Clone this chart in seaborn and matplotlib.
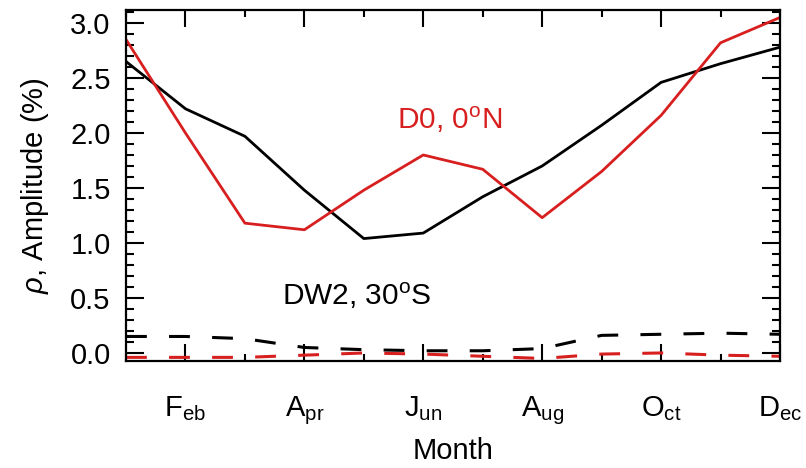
import numpy as np
import pandas as pd
import matplotlib
matplotlib.use("Agg")
import matplotlib.pyplot as plt
from matplotlib.ticker import MultipleLocator, FixedLocator
import seaborn as sns

months = list(range(1, 13))
tick_months = [2, 4, 6, 8, 10, 12]
tick_labels = [r"F$_\mathrm{eb}$", r"A$_\mathrm{pr}$", r"J$_\mathrm{un}$",
               r"A$_\mathrm{ug}$", r"O$_\mathrm{ct}$", r"D$_\mathrm{ec}$"]

d0_solid = [2.85, 2.00, 1.18, 1.12, 1.48, 1.80, 1.67, 1.23, 1.65, 2.16, 2.82, 3.05]
dw2_solid = [2.65, 2.22, 1.97, 1.48, 1.04, 1.09, 1.42, 1.70, 2.07, 2.46, 2.63, 2.78]
dw2_dashed = [0.15, 0.15, 0.13, 0.05, 0.03, 0.02, 0.02, 0.04, 0.16, 0.17, 0.18, 0.17]
d0_dashed = [-0.04, -0.04, -0.04, -0.02, 0.00, -0.01, -0.03, -0.05, -0.01, 0.00, -0.02, -0.03]

RED = "#d81f1f"

sns.set_style("ticks")
plt.rcParams["font.family"] = ["Liberation Sans", "DejaVu Sans"]
plt.rcParams["mathtext.fontset"] = "custom"
plt.rcParams["mathtext.rm"] = "Liberation Sans"
plt.rcParams["mathtext.it"] = "Liberation Sans:italic"
plt.rcParams["lines.scale_dashes"] = False
plt.rcParams["text.color"] = "black"
plt.rcParams["axes.labelcolor"] = "black"
plt.rcParams["xtick.color"] = "black"
plt.rcParams["ytick.color"] = "black"

fig = plt.figure(figsize=(8.06, 4.68), dpi=100)
ax = fig.add_axes([126 / 806, 1 - 361 / 468, (780 - 126) / 806, (361 - 10) / 468])

sns.lineplot(x=months, y=dw2_solid, ax=ax, color="black", lw=2.0)
sns.lineplot(x=months, y=d0_solid, ax=ax, color=RED, lw=2.0)
sns.lineplot(x=months, y=dw2_dashed, ax=ax, color="black", lw=2.2, linestyle=(0, (15, 16)))
sns.lineplot(x=months, y=d0_dashed, ax=ax, color=RED, lw=2.2, linestyle=(0, (15, 16)))

ax.set_xlim(1, 12)
ax.set_ylim(-0.073, 3.118)

ax.xaxis.set_major_locator(FixedLocator(tick_months))
ax.set_xticklabels(tick_labels)
ax.xaxis.set_minor_locator(FixedLocator([1, 3, 5, 7, 9, 11]))
ax.yaxis.set_major_locator(MultipleLocator(0.5))
ax.yaxis.set_minor_locator(MultipleLocator(0.1))
ax.yaxis.set_major_formatter(matplotlib.ticker.FormatStrFormatter("%.1f"))

ax.tick_params(which="both", direction="in", top=True, right=True, width=1.5, color="black")
ax.tick_params(axis="x", which="major", length=12, pad=24, labelsize=21)
ax.tick_params(axis="x", which="minor", length=5)
ax.tick_params(axis="y", which="major", length=13, pad=11, labelsize=21)
ax.tick_params(axis="y", which="minor", length=6)
for s in ax.spines.values():
    s.set_linewidth(1.6)
    s.set_color("black")

ax.set_xlabel("Month", fontsize=21, labelpad=7)
ax.set_ylabel(r"$\rho$, Amplitude (%)", fontsize=21, labelpad=14)

ax.text(6.45, 2.12, r"D0, 0$^\mathrm{o}$N", color=RED, fontsize=21.5, ha="center", va="center")
ax.text(4.88, 0.52, r"DW2, 30$^\mathrm{o}$S", color="black", fontsize=21.5, ha="center", va="center")

fig.savefig("out.png", dpi=100)
